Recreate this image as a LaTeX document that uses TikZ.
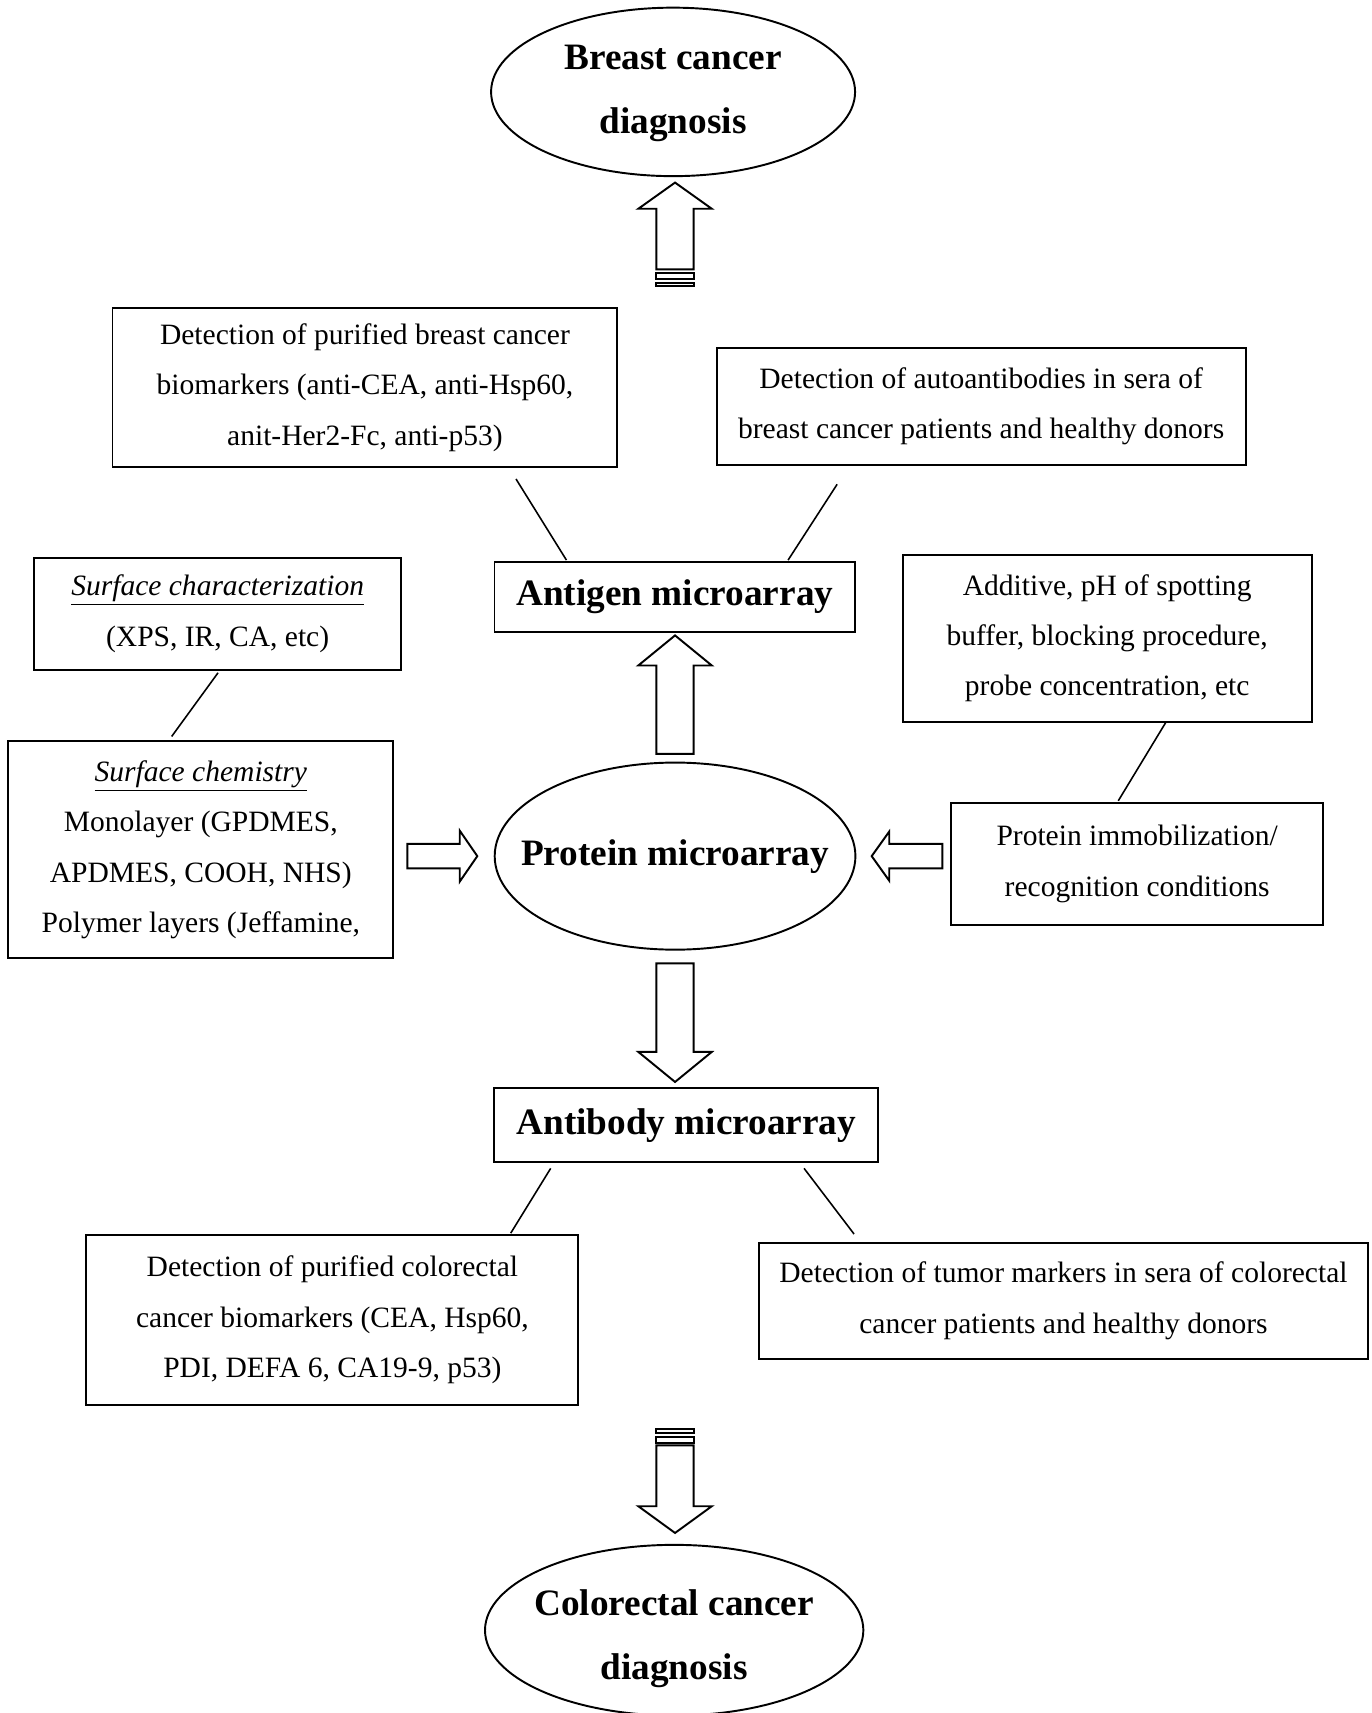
\documentclass[tikz,border=0pt]{standalone}
\usepackage{fontspec}
\setmainfont{Liberation Serif}
\usetikzlibrary{shapes.geometric,calc}
\newcommand{\DU}{0.021882cm}
\newcommand\blockarr[5]{%
  \coordinate (BAt) at (#2);
  \coordinate (BAs) at (#1);
  \coordinate (BAh) at ($(BAt)!#3!(BAs)$);
  \draw[blk] (BAt) -- ($(BAh)!#4!90:(BAt)$) -- ($(BAh)!#5!90:(BAt)$) -- ($(BAs)!#5!90:(BAh)$)
    -- ($(BAs)!#5!-90:(BAh)$) -- ($(BAh)!#5!-90:(BAt)$) -- ($(BAh)!#4!-90:(BAt)$) -- cycle;
}
\tikzset{
  corners/.style args={#1:#2:#3:#4}{minimum width={(#3-#1)*\DU}, minimum height={(#4-#2)*\DU},
     at={({(#1+#3)/2},{(#2+#4)/2})}},
  box/.style={draw, line width=1.1pt, inner sep=0pt, align=center, font=\fontsize{16.8}{28.6}\selectfont},
  bbox/.style={draw, line width=1.1pt, inner sep=0pt, align=center, font=\fontsize{21.2}{36.6}\selectfont\bfseries},
  ell/.style={draw, ellipse, line width=1.1pt, inner sep=0pt},
  elltext/.style={align=center, inner sep=0pt, font=\fontsize{21.2}{36.6}\selectfont\bfseries},
  blk/.style={draw, line width=1.1pt, line join=miter, fill=white},
  conn/.style={line width=0.9pt},
}
\begin{document}
\begin{tikzpicture}[x=0.021882cm, y=-0.021882cm]
\useasboundingbox[fill=white] (0,0) rectangle (1254,1565.7);

% nodes
\node[ell, minimum width=332.7*\DU, minimum height=154*\DU,
  label={[elltext, yshift=-1.5*\DU]center:Breast cancer\\diagnosis}] (bcd) at (615.2,84) {};
\node[box, corners=102.8:281.4:564.3:427] (b1) {Detection of purified breast cancer\\biomarkers (anti-CEA, anti-Hsp60,\\anit-Her2-Fc, anti-p53)};
\node[box, corners=655:317.8:1138.6:425] (b2) {Detection of autoantibodies in sera of\\breast cancer patients and healthy donors};
\node[bbox, corners=452:514:781.5:577.5] (ant) {Antigen microarray};
\node[box, corners=31.4:509.7:366.5:612.4] (sc) {\underline{\textit{Surface characterization}}\\(XPS, IR, CA, etc)};
\node[box, corners=7.6:677.3:359.5:876] (sch) {\underline{\textit{Surface chemistry}}\\Monolayer (GPDMES,\\APDMES, COOH, NHS)\\Polymer layers (Jeffamine,};
\node[box, corners=825:507.3:1198.9:659.6] (add) {Additive, pH of spotting\\buffer, blocking procedure,\\probe concentration, etc};
\node[box, corners=869.2:733.7:1209.5:845.5] (pim) {Protein immobilization/\\recognition conditions};
\node[ell, minimum width=329.7*\DU, minimum height=171*\DU,
  label={[elltext]center:Protein microarray}] (prot) at (617,782.5) {};
\node[bbox, corners=451.8:994.8:802.8:1062.4] (abd) {Antibody microarray};
\node[box, corners=79:1128.8:528.6:1284] (cp) {Detection of purified colorectal\\cancer biomarkers (CEA, Hsp60,\\PDI, DEFA 6, CA19-9, p53)};
\node[box, corners=694:1135.9:1250:1242] (tm) {Detection of tumor markers in sera of colorectal\\cancer patients and healthy donors};
\node[ell, minimum width=345.8*\DU, minimum height=156*\DU,
  label={[elltext, yshift=-8*\DU]center:Colorectal cancer\\diagnosis}] (crc) at (616.2,1490) {};

% thin connectors
\draw[conn] ($(b1.south west)+(369.7,9.9)$) -- ($(ant.north west)+(66.6,-1.2)$);
\draw[conn] ($(b2.south west)+(111,16.8)$) -- ($(ant.north west)+(269.2,-1.2)$);
\draw[conn] ($(sc.south west)+(168.8,1.6)$) -- ($(sch.north west)+(150.2,-3.3)$);
\draw[conn] ($(add.south west)+(241.3,0)$) -- ($(pim.north west)+(153.8,-0.9)$);
\draw[conn] ($(abd.south west)+(52.4,4.6)$) -- ($(cp.north west)+(388.7,-0.8)$);
\draw[conn] ($(abd.south west)+(284,4.6)$) -- ($(tm.north west)+(87.5,-7.1)$);

% block arrows
\coordinate (bctail) at (617,246.2);
\blockarr{bctail}{$(bcd.south)+(1.8,5)$}{14.9pt}{20.9pt}{10.6pt}
\draw[blk] ($(bctail)+(-17,3.6)$) rectangle ($(bctail)+(17,9.1)$);
\draw[blk] ($(bctail)+(-17,12.2)$) rectangle ($(bctail)+(17,15.5)$);

\blockarr{$(prot.north)+(0,-7)$}{$(ant.south -| prot.north)+(0,2.4)$}{17.1pt}{20.9pt}{10.6pt}
\blockarr{$(prot.south)+(0,11.6)$}{$(abd.north -| prot.south)+(0,-5)$}{17.1pt}{20.9pt}{10.6pt}
\blockarr{$(sch.east |- prot.west)+(12,0)$}{$(prot.west)+(-15,0)$}{10pt}{14.5pt}{7pt}
\blockarr{$(pim.west |- prot.east)+(-7,0)$}{$(prot.east)+(14,0)$}{10pt}{14pt}{7pt}

\coordinate (crtail) at (617,1321);
\blockarr{crtail}{$(crc.north)+(0.8,-10)$}{15.2pt}{20.9pt}{10.6pt}
\draw[blk] ($(crtail)+(-17,-8)$) rectangle ($(crtail)+(17,-2.5)$);
\draw[blk] ($(crtail)+(-17,-14.6)$) rectangle ($(crtail)+(17,-11.3)$);
\end{tikzpicture}
\end{document}
